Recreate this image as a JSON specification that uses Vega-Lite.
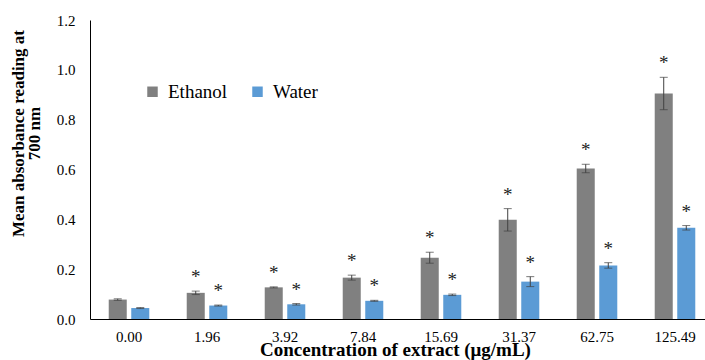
{
  "$schema": "https://vega.github.io/schema/vega-lite/v6.json",
  "autosize": {"type": "none"},
  "padding": {"left": 90, "top": 20, "right": 0, "bottom": 41},
  "width": 615,
  "height": 299,
  "background": "white",
  "config": {
    "view": {"stroke": null},
    "font": "Liberation Serif",
    "axis": {"grid": false, "ticks": false, "domainColor": "#000000", "domainWidth": 1, "labelColor": "#000000", "titleColor": "#000000", "labelFont": "Liberation Serif", "titleFont": "Liberation Serif"}
  },
  "data": {"values": [
    {"conc": "0.00", "solvent": "Ethanol", "mean": 0.078, "lo": 0.075, "hi": 0.081, "sig": ""},
    {"conc": "1.96", "solvent": "Ethanol", "mean": 0.105, "lo": 0.098, "hi": 0.112, "sig": "*"},
    {"conc": "3.92", "solvent": "Ethanol", "mean": 0.127, "lo": 0.125, "hi": 0.129, "sig": "*"},
    {"conc": "7.84", "solvent": "Ethanol", "mean": 0.166, "lo": 0.156, "hi": 0.176, "sig": "*"},
    {"conc": "15.69", "solvent": "Ethanol", "mean": 0.246, "lo": 0.224, "hi": 0.268, "sig": "*"},
    {"conc": "31.37", "solvent": "Ethanol", "mean": 0.398, "lo": 0.353, "hi": 0.443, "sig": "*"},
    {"conc": "62.75", "solvent": "Ethanol", "mean": 0.604, "lo": 0.587, "hi": 0.621, "sig": "*"},
    {"conc": "125.49", "solvent": "Ethanol", "mean": 0.905, "lo": 0.840, "hi": 0.970, "sig": "*"},
    {"conc": "0.00", "solvent": "Water", "mean": 0.044, "lo": 0.042, "hi": 0.046, "sig": ""},
    {"conc": "1.96", "solvent": "Water", "mean": 0.054, "lo": 0.052, "hi": 0.056, "sig": "*"},
    {"conc": "3.92", "solvent": "Water", "mean": 0.059, "lo": 0.056, "hi": 0.062, "sig": "*"},
    {"conc": "7.84", "solvent": "Water", "mean": 0.073, "lo": 0.071, "hi": 0.075, "sig": "*"},
    {"conc": "15.69", "solvent": "Water", "mean": 0.097, "lo": 0.094, "hi": 0.100, "sig": "*"},
    {"conc": "31.37", "solvent": "Water", "mean": 0.150, "lo": 0.130, "hi": 0.170, "sig": "*"},
    {"conc": "62.75", "solvent": "Water", "mean": 0.215, "lo": 0.204, "hi": 0.226, "sig": "*"},
    {"conc": "125.49", "solvent": "Water", "mean": 0.366, "lo": 0.357, "hi": 0.375, "sig": "*"}
  ]},
  "encoding": {
    "x": {
      "field": "conc", "type": "nominal", "sort": null,
      "scale": {"range": [0, 624], "paddingInner": 0.48, "paddingOuter": 0.24},
      "axis": {
        "labelAngle": 0, "labelFontSize": 15, "labelPadding": 10,
        "title": "Concentration of extract (μg/mL)", "titleFontSize": 19, "titleFontWeight": "bold",
        "titleX": 305, "titleY": 36, "titleBaseline": "alphabetic", "titleAnchor": null
      }
    },
    "xOffset": {"field": "solvent", "type": "nominal", "scale": {"paddingInner": 0.2}}
  },
  "layer": [
    {
      "mark": {"type": "bar"},
      "encoding": {
        "y": {
          "field": "mean", "type": "quantitative", "stack": null,
          "scale": {"domain": [0, 1.2], "nice": false},
          "axis": {
            "values": [0, 0.2, 0.4, 0.6, 0.8, 1.0, 1.2], "format": ".1f",
            "labelFontSize": 15, "labelPadding": 15,
            "title": ["Mean absorbance reading at", "700 nm"], "titleFontSize": 17, "titleFontWeight": "bold",
            "titleX": -67, "titleY": 113, "titleAnchor": null, "titleBaseline": "alphabetic", "titleLineHeight": 16
          }
        },
        "color": {
          "field": "solvent", "type": "nominal",
          "scale": {"domain": ["Ethanol", "Water"], "range": ["#808080", "#5b9bd5"]},
          "legend": {
            "title": null, "orient": "none", "direction": "horizontal",
            "legendX": 53, "legendY": 62, "symbolType": "square", "symbolSize": 110,
            "symbolStrokeWidth": 0, "labelFontSize": 19, "labelFont": "Liberation Serif",
            "labelOffset": 6, "columnPadding": 20, "labelColor": "#000000"
          }
        }
      }
    },
    {
      "mark": {"type": "rule", "color": "#404040", "strokeWidth": 1},
      "encoding": {
        "y": {"field": "lo", "type": "quantitative"},
        "y2": {"field": "hi"}
      }
    },
    {
      "mark": {"type": "tick", "color": "#404040", "thickness": 1, "size": 8, "orient": "horizontal"},
      "encoding": {"y": {"field": "lo", "type": "quantitative"}}
    },
    {
      "mark": {"type": "tick", "color": "#404040", "thickness": 1, "size": 8, "orient": "horizontal"},
      "encoding": {"y": {"field": "hi", "type": "quantitative"}}
    },
    {
      "mark": {"type": "text", "fontSize": 19, "dy": -8, "baseline": "alphabetic", "color": "#222222", "font": "Liberation Serif"},
      "encoding": {
        "y": {"field": "hi", "type": "quantitative"},
        "text": {"field": "sig"}
      }
    }
  ]
}
